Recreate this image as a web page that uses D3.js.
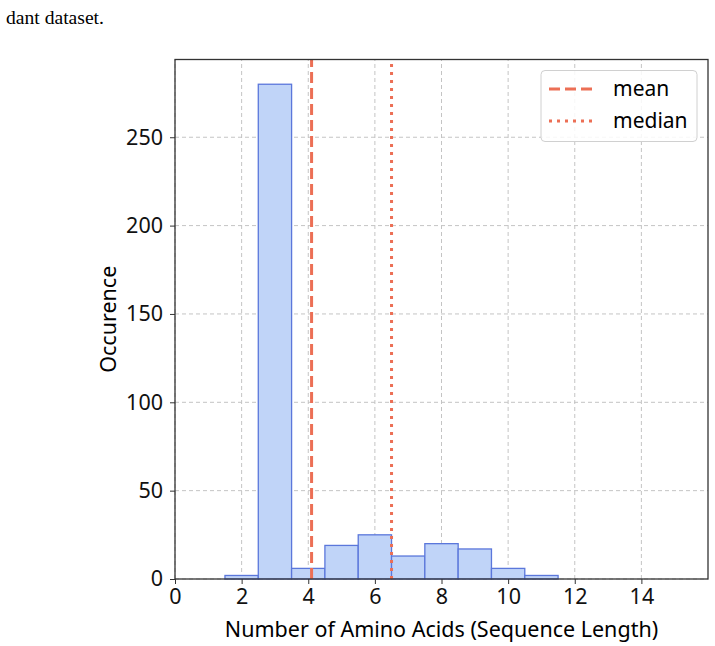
<!DOCTYPE html>
<html>
<head>
<meta charset="utf-8">
<script src="https://cdn.jsdelivr.net/npm/d3@7"></script>
<style>
  body { margin: 0; background: #fff; }
  svg { display: block; }
</style>
</head>
<body>
<div id="chart"></div>
<script>
// histogram bins (sequence length) and counts
var binStarts = [1.5, 2.5, 3.5, 4.5, 5.5, 6.5, 7.5, 8.5, 9.5, 10.5];
var binWidth = 1;
var counts = [2, 280, 6, 19, 25, 13, 20, 17, 6, 2];
var xTicks = [0, 2, 4, 6, 8, 10, 12, 14];
var yTicks = [0, 50, 100, 150, 200, 250];
var meanValue = 4.1;
var medianValue = 6.5;

var width = 715, height = 646;
var margin = {left: 175, top: 59.5, right: 7, bottom: 67};
var lineColor = "#ec6f55";

var svg = d3.select("#chart").append("svg")
    .attr("width", width)
    .attr("height", height);

// caption fragment cut off at the top
svg.append("text")
    .attr("x", 6).attr("y", 24)
    .style("font-family", "'Liberation Serif', serif")
    .style("font-size", "19.6px")
    .text("dant dataset.");

var x = d3.scaleLinear().domain([0, 16]).range([margin.left, width - margin.right]);
var y = d3.scaleLinear().domain([0, 294]).range([height - margin.bottom, margin.top]);

var font = "'Noto Sans', sans-serif";

// grid
var grid = svg.append("g");
grid.selectAll(".gx").data(xTicks).enter().append("line")
    .attr("x1", d => x(d)).attr("x2", d => x(d))
    .attr("y1", y(0)).attr("y2", margin.top)
    .attr("stroke", "#c4c4c4").attr("stroke-dasharray", "4,3");
grid.selectAll(".gy").data(yTicks).enter().append("line")
    .attr("x1", margin.left).attr("x2", width - margin.right)
    .attr("y1", d => y(d)).attr("y2", d => y(d))
    .attr("stroke", "#c4c4c4").attr("stroke-dasharray", "4,3");

// bars
svg.selectAll("rect.bar")
    .data(counts)
    .enter()
    .append("rect")
    .attr("class", "bar")
    .attr("x", (d, i) => x(binStarts[i]))
    .attr("width", (d, i) => x(binStarts[i] + binWidth) - x(binStarts[i]))
    .attr("y", d => y(d))
    .attr("height", d => y(0) - y(d))
    .attr("fill", "#c0d4f8")
    .attr("stroke", "#5b77db")
    .attr("stroke-width", 1.3);

// mean / median lines
svg.append("line")
    .attr("x1", x(meanValue)).attr("x2", x(meanValue))
    .attr("y1", y(0)).attr("y2", margin.top)
    .attr("stroke", lineColor).attr("stroke-width", 3)
    .attr("stroke-dasharray", "11,5");
svg.append("line")
    .attr("x1", x(medianValue)).attr("x2", x(medianValue))
    .attr("y1", y(0)).attr("y2", margin.top)
    .attr("stroke", lineColor).attr("stroke-width", 3)
    .attr("stroke-dasharray", "3,5");

// axes
var xAxis = svg.append("g")
    .attr("transform", "translate(0," + y(0) + ")")
    .call(d3.axisBottom(x).tickValues(xTicks).tickSize(5).tickPadding(5));
var yAxis = svg.append("g")
    .attr("transform", "translate(" + margin.left + ",0)")
    .call(d3.axisLeft(y).tickValues(yTicks).tickSize(5).tickPadding(7));

[xAxis, yAxis].forEach(function (a) {
    a.select(".domain").remove();
    a.selectAll("line").attr("stroke", "#333");
    a.selectAll("text").style("font-family", font).style("font-size", "21.5px").attr("fill", "#111");
});

// frame
svg.append("rect")
    .attr("x", margin.left).attr("y", margin.top)
    .attr("width", width - margin.right - margin.left)
    .attr("height", y(0) - margin.top)
    .attr("fill", "none").attr("stroke", "#333").attr("stroke-width", 1.3);

// axis labels
svg.append("text")
    .attr("x", (margin.left + width - margin.right) / 2)
    .attr("y", 637)
    .attr("text-anchor", "middle")
    .style("font-family", font).style("font-size", "21.5px")
    .text("Number of Amino Acids (Sequence Length)");
svg.append("text")
    .attr("transform", "translate(116," + (margin.top + y(0)) / 2 + ") rotate(-90)")
    .attr("text-anchor", "middle")
    .style("font-family", font).style("font-size", "21.5px")
    .text("Occurence");

// legend
var legend = svg.append("g");
legend.append("rect")
    .attr("x", 541).attr("y", 70.5)
    .attr("width", 156).attr("height", 71)
    .attr("rx", 4)
    .attr("fill", "rgba(255,255,255,0.85)")
    .attr("stroke", "#d0d0d0");
var legendItems = [
    {label: "mean", dash: "11,5", yy: 89},
    {label: "median", dash: "3,5", yy: 121}
];
legendItems.forEach(function (d) {
    legend.append("line")
        .attr("x1", 549).attr("x2", 594)
        .attr("y1", d.yy).attr("y2", d.yy)
        .attr("stroke", lineColor).attr("stroke-width", 3)
        .attr("stroke-dasharray", d.dash);
    legend.append("text")
        .attr("x", 613).attr("y", d.yy + 7)
        .style("font-family", font).style("font-size", "21px")
        .text(d.label);
});
</script>
</body>
</html>
